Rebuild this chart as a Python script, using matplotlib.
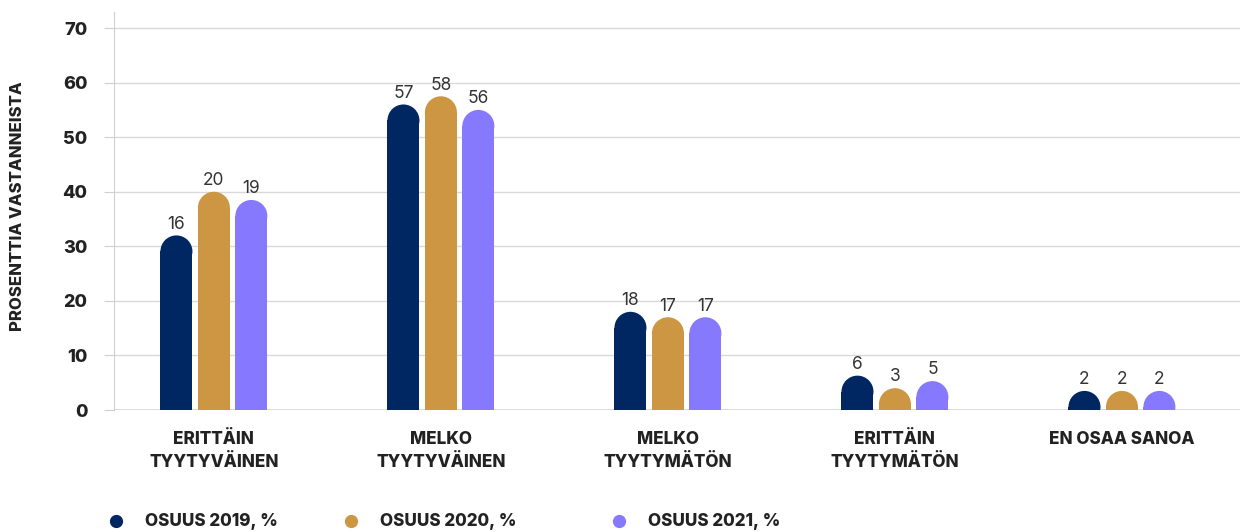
import matplotlib.pyplot as plt
from matplotlib.patches import Ellipse
from matplotlib.lines import Line2D
import numpy as np

plt.rcParams['font.family'] = ['Inter', 'DejaVu Sans']

# Kategoriat ja sarjat
categories = ["ERITTÄIN\nTYYTYVÄINEN", "MELKO\nTYYTYVÄINEN", "MELKO\nTYYTYMÄTÖN",
              "ERITTÄIN\nTYYTYMÄTÖN", "EN OSAA SANOA"]
series = ["OSUUS 2019, %", "OSUUS 2020, %", "OSUUS 2021, %"]

# Pylväiden korkeudet kuvasta luettuna
heights_2019 = [32, 56, 18, 6.3, 3.5]
heights_2020 = [40, 57.5, 17, 4, 3.5]
heights_2021 = [38.5, 55, 17, 5.3, 3.5]

# Pylväiden päällä näkyvät arvot
labels_2019 = [16, 57, 18, 6, 2]
labels_2020 = [20, 58, 17, 3, 2]
labels_2021 = [19, 56, 17, 5, 2]

colors = ['#002762', '#CD9642', '#8779FE']

heights = [heights_2019, heights_2020, heights_2021]
labels = [labels_2019, labels_2020, labels_2021]

fig = plt.figure(figsize=(12.5, 5.32), dpi=100)
ax = fig.add_axes([0.0912, 0.2293, 0.9008, 0.7487])

ax.set_xlim(-0.44, 4.52)
ax.set_ylim(0, 73)

x = np.arange(len(categories))
w = 0.141
offs = [-0.165, 0, 0.165]

# pyöristyksen säde data-yksikköinä
fig.canvas.draw()
p0 = ax.transData.transform((0, 0))
p1 = ax.transData.transform((w, 1))
px_w = p1[0] - p0[0]
px_per_y = p1[1] - p0[1]
ry = (px_w / 2) / px_per_y

for i in range(3):
    for j in range(len(categories)):
        h = heights[i][j]
        xc = x[j] + offs[i]
        ax.bar(xc, h - ry, width=w, color=colors[i], zorder=3)
        ax.add_patch(Ellipse((xc, h - ry), w, 2 * ry, color=colors[i], zorder=3, lw=0))
        ax.text(xc, h + 0.5, str(labels[i][j]), ha='center', va='bottom',
                fontsize=12.5, color='#333333', zorder=4)

ax.set_yticks(range(0, 71, 10))
ax.set_yticklabels([str(v) for v in range(0, 71, 10)], fontweight='heavy',
                   fontsize=13, color='#222222')
ax.set_xticks(x)
ax.set_xticklabels(categories, fontweight='heavy', fontsize=12.3, color='#222222',
                   linespacing=1.45)
ax.tick_params(axis='y', length=7, color='#d0d0d0', pad=12)
ax.tick_params(axis='x', length=0, pad=15)

ax.grid(axis='y', color='#d9d9d9', lw=1, zorder=0)
for s in ['top', 'right', 'bottom']:
    ax.spines[s].set_visible(False)
ax.spines['left'].set_color('#d0d0d0')
ax.axhline(0, color='#d9d9d9', lw=2, zorder=2)

fig.text(0.014, 0.613, "PROSENTTIA VASTANNEISTA", rotation=90, ha='center',
         va='center', fontweight='heavy', fontsize=12, color='#222222')

# selite käsin: pisteet ja tekstit
legend_dot_x = [116, 351, 619]
legend_y = 1 - 521 / 532
for c, name, px in zip(colors, series, legend_dot_x):
    fig.add_artist(Line2D([px / 1250], [legend_y], marker='o', color=c,
                          markersize=8.5, lw=0, transform=fig.transFigure))
    fig.text((px + 29) / 1250, legend_y, name, ha='left', va='center',
             fontweight='heavy', fontsize=12.3, color='#222222')

fig.savefig('out.png', dpi=100)
